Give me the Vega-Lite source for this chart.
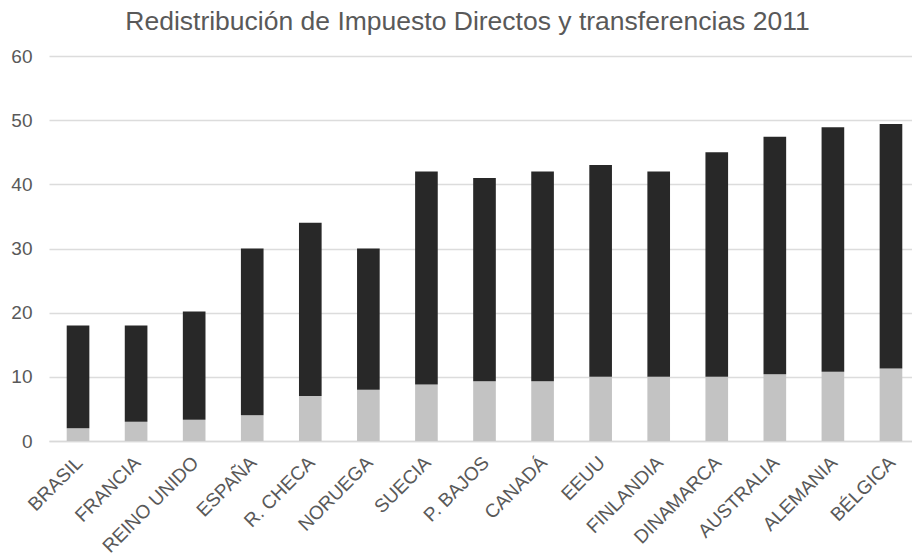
{
  "$schema": "https://vega.github.io/schema/vega-lite/v6.json",
  "width": 871,
  "height": 385,
  "autosize": {"type": "none"},
  "padding": {"left": 49, "top": 56, "right": 0, "bottom": 119},
  "background": "white",
  "title": {
    "text": "Redistribución de Impuesto Directos y transferencias 2011",
    "fontSize": 26.5,
    "font": "Liberation Sans",
    "fontWeight": "normal",
    "color": "#595959",
    "offset": 12,
    "dx": -17
  },
  "config": {
    "view": {"stroke": null},
    "font": "Liberation Sans"
  },
  "data": {
    "values": [
      {"pais": "BRASIL", "serie": "Impuestos", "orden": 1, "valor": 2},
      {"pais": "BRASIL", "serie": "Transferencias", "orden": 2, "valor": 16},
      {"pais": "FRANCIA", "serie": "Impuestos", "orden": 1, "valor": 3},
      {"pais": "FRANCIA", "serie": "Transferencias", "orden": 2, "valor": 15},
      {"pais": "REINO UNIDO", "serie": "Impuestos", "orden": 1, "valor": 3.3},
      {"pais": "REINO UNIDO", "serie": "Transferencias", "orden": 2, "valor": 16.9},
      {"pais": "ESPAÑA", "serie": "Impuestos", "orden": 1, "valor": 4},
      {"pais": "ESPAÑA", "serie": "Transferencias", "orden": 2, "valor": 26},
      {"pais": "R. CHECA", "serie": "Impuestos", "orden": 1, "valor": 7},
      {"pais": "R. CHECA", "serie": "Transferencias", "orden": 2, "valor": 27},
      {"pais": "NORUEGA", "serie": "Impuestos", "orden": 1, "valor": 8},
      {"pais": "NORUEGA", "serie": "Transferencias", "orden": 2, "valor": 22},
      {"pais": "SUECIA", "serie": "Impuestos", "orden": 1, "valor": 8.8},
      {"pais": "SUECIA", "serie": "Transferencias", "orden": 2, "valor": 33.2},
      {"pais": "P. BAJOS", "serie": "Impuestos", "orden": 1, "valor": 9.3},
      {"pais": "P. BAJOS", "serie": "Transferencias", "orden": 2, "valor": 31.7},
      {"pais": "CANADÁ", "serie": "Impuestos", "orden": 1, "valor": 9.3},
      {"pais": "CANADÁ", "serie": "Transferencias", "orden": 2, "valor": 32.7},
      {"pais": "EEUU", "serie": "Impuestos", "orden": 1, "valor": 10},
      {"pais": "EEUU", "serie": "Transferencias", "orden": 2, "valor": 33},
      {"pais": "FINLANDIA", "serie": "Impuestos", "orden": 1, "valor": 10},
      {"pais": "FINLANDIA", "serie": "Transferencias", "orden": 2, "valor": 32},
      {"pais": "DINAMARCA", "serie": "Impuestos", "orden": 1, "valor": 10},
      {"pais": "DINAMARCA", "serie": "Transferencias", "orden": 2, "valor": 35},
      {"pais": "AUSTRALIA", "serie": "Impuestos", "orden": 1, "valor": 10.4},
      {"pais": "AUSTRALIA", "serie": "Transferencias", "orden": 2, "valor": 37},
      {"pais": "ALEMANIA", "serie": "Impuestos", "orden": 1, "valor": 10.8},
      {"pais": "ALEMANIA", "serie": "Transferencias", "orden": 2, "valor": 38.1},
      {"pais": "BÉLGICA", "serie": "Impuestos", "orden": 1, "valor": 11.3},
      {"pais": "BÉLGICA", "serie": "Transferencias", "orden": 2, "valor": 38.1}
    ]
  },
  "mark": {"type": "bar"},
  "encoding": {
    "x": {
      "field": "pais",
      "type": "nominal",
      "sort": null,
      "scale": {"paddingInner": 0.61, "paddingOuter": 0.305},
      "axis": {
        "title": null,
        "labelAngle": -45,
        "labelFontSize": 19,
        "labelColor": "#595959",
        "labelPadding": 12,
        "labelOffset": -5,
        "ticks": false,
        "domain": true,
        "domainColor": "#d9d9d9",
        "domainWidth": 1.5
      }
    },
    "y": {
      "field": "valor",
      "type": "quantitative",
      "stack": "zero",
      "scale": {"domain": [0, 60], "nice": false},
      "axis": {
        "title": null,
        "values": [0, 10, 20, 30, 40, 50, 60],
        "labelFontSize": 19,
        "labelColor": "#595959",
        "labelPadding": 17,
        "ticks": false,
        "domain": false,
        "gridColor": "#dcdcdc",
        "gridWidth": 1.5
      }
    },
    "color": {
      "field": "serie",
      "type": "nominal",
      "scale": {"domain": ["Impuestos", "Transferencias"], "range": ["#c3c3c3", "#282828"]},
      "legend": null
    },
    "order": {"field": "orden", "type": "quantitative"}
  }
}
